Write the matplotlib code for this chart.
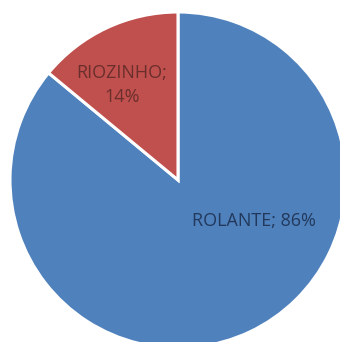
import matplotlib
matplotlib.use("Agg")
import matplotlib.pyplot as plt

labels = ["ROLANTE", "RIOZINHO"]
values = [86, 14]
colors = ["#4F81BD", "#C0504D"]

W, H = 340, 342
cx, cy, R = 178, 180, 168

fig = plt.figure(figsize=(W/100, H/100), dpi=100)
ax = fig.add_axes([0, 0, 1, 1])
ax.axis('off')

wedges, _ = ax.pie(values, colors=colors, startangle=90, counterclock=False,
                   radius=1.0, center=(0, 0),
                   wedgeprops=dict(edgecolor="white", linewidth=2.2))
ax.set_xlim(-cx/R, (W-cx)/R)
ax.set_ylim(-(H-cy)/R, cy/R)
ax.set_aspect('auto')

def px(x, y):
    return ((x-cx)/R, (cy-y)/R)

ax.text(*px(254, 221), f"{labels[0]}; {values[0]}%", ha="center", va="center",
        fontsize=13, family="Open Sans", color="#22395C")
ax.text(*px(122, 85), f"{labels[1]};\n{values[1]}%", ha="center", va="center",
        fontsize=13, family="Open Sans", color="#6A2E2C", linespacing=1.45)

fig.savefig("out.png", dpi=100)
